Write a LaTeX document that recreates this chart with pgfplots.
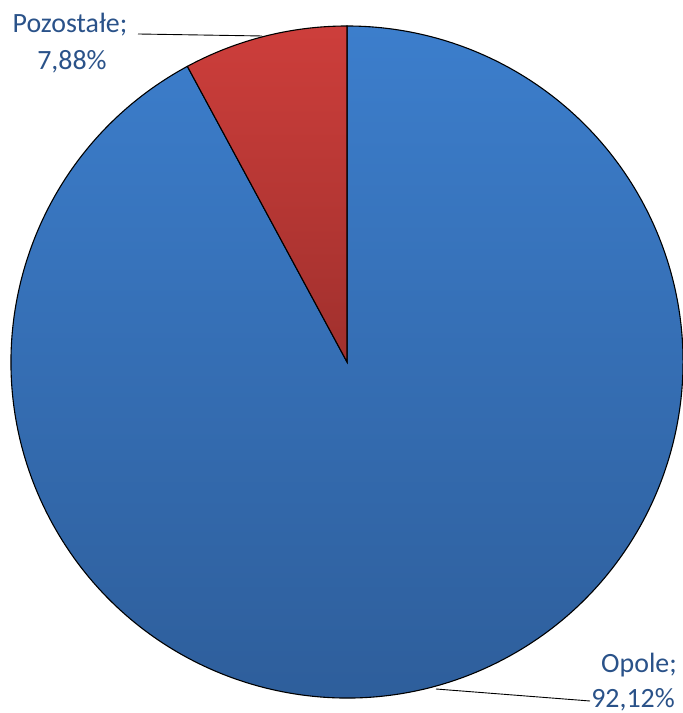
\documentclass[border=0pt]{standalone}
\usepackage{fontspec}
\setmainfont{Carlito}
\usepackage{pgfplots}
\pgfplotsset{compat=1.18}
\definecolor{lbl}{HTML}{2A5289}
\definecolor{btop}{HTML}{3C7ECC}
\definecolor{bbot}{HTML}{2D5C98}
\definecolor{rtop}{HTML}{CD3E3B}
\definecolor{rbot}{HTML}{A0302D}
% data (percent)
\def\valOpole{92.12}
\def\valPoz{7.88}
\begin{document}
\begin{tikzpicture}
\pgfmathsetmacro{\angPoz}{90+360*\valPoz/100}
\begin{axis}[
  width=683bp, height=713bp, scale only axis,
  xmin=0, xmax=683, ymin=0, ymax=713,
  hide axis, clip=false,
]
\coordinate (ll) at (axis cs:0,0);
\coordinate (ur) at (axis cs:683,713);
% Opole wedge
\path[draw=black, line width=1.1bp, top color=btop, bottom color=bbot]
  (axis cs:347,351) -- ++(\angPoz:336bp) arc[start angle=\angPoz, end angle=450, radius=336bp] -- cycle;
% Pozostale wedge
\path[draw=black, line width=1.1bp, top color=rtop, bottom color=rbot]
  (axis cs:347,351) -- ++(90:336bp) arc[start angle=90, end angle=\angPoz, radius=336bp] -- cycle;
% leader lines
\draw[black, line width=0.9bp] (axis cs:138,679) -- (axis cs:262,677);
\draw[black, line width=0.9bp] (axis cs:436,24) -- (axis cs:590,12);
% labels
\node[anchor=base, inner sep=0, text=lbl, font=\fontsize{28}{34}\selectfont] at (axis cs:70,680) {Pozostałe;};
\node[anchor=base, inner sep=0, text=lbl, font=\fontsize{28}{34}\selectfont] at (axis cs:72,643) {7,88\%};
\node[anchor=base, inner sep=0, text=lbl, font=\fontsize{28}{34}\selectfont] at (axis cs:639,40) {Opole;};
\node[anchor=base, inner sep=0, text=lbl, font=\fontsize{28}{34}\selectfont] at (axis cs:633,6) {92,12\%};
\end{axis}
\pgfresetboundingbox
\path (ll) rectangle (ur);
\end{tikzpicture}
\end{document}
